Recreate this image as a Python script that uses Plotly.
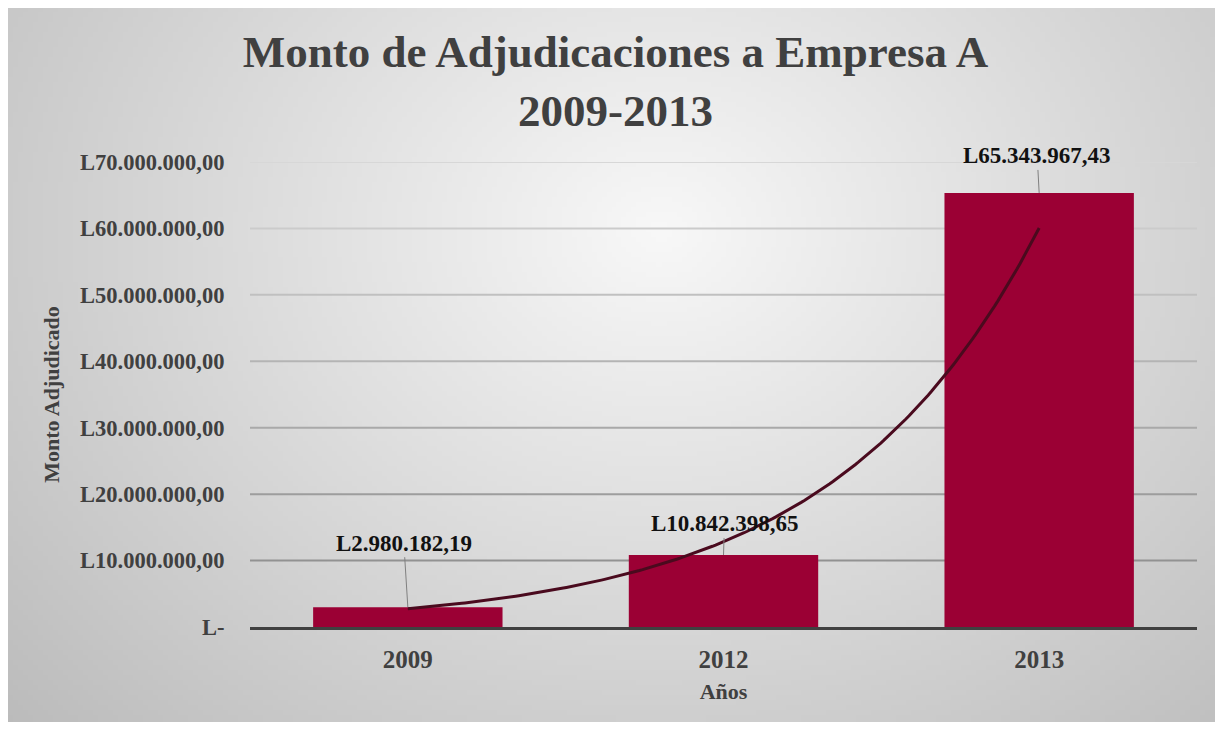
import base64, struct, zlib
import numpy as np
import plotly.graph_objects as go

# ---- data ----
years = ["2009", "2012", "2013"]
amounts = [2980182.19, 10842398.65, 65343967.43]
y_ticks = [0, 10e6, 20e6, 30e6, 40e6, 50e6, 60e6, 70e6]
y_tick_labels = ["L-", "L10.000.000,00", "L20.000.000,00", "L30.000.000,00",
                 "L40.000.000,00", "L50.000.000,00", "L60.000.000,00", "L70.000.000,00"]
label_offsets = [(-4, -64), (1, -31), (-2, -37)]   # data-label placement (px)

def fmt(v):
    s = f"{v:,.2f}".replace(",", "X").replace(".", ",").replace("X", ".")
    return "L" + s

# ---- geometry (page has an 8px body margin) ----
OFF = 8
W, H = 1223 - OFF, 729 - OFF
L = 250 - OFF
T = 162 - OFF
R = W - (1197 - OFF)
B = H - (627 - OFF)
PW, PH = W - L - R, H - T - B

def px2paper(x, y):
    # x, y given in page pixels
    return (x - OFF - L) / PW, (H - B - (y - OFF)) / PH

# ---- radial gradient background image ----
fx0, fy0, fx1, fy1 = 6, 5, 1217, 722
gw, gh = 243, 144
xs = np.linspace(fx0, fx1, gw)
ys = np.linspace(fy0, fy1, gh)
XX, YY = np.meshgrid(xs, ys)
d = np.sqrt(((XX - 660) / 800) ** 2 + ((YY - 230) / 650) ** 2)
img = np.clip(248 - 54 * d, 185, 250).astype(np.uint8)

def png_gray(a):
    h, w = a.shape
    raw = b"".join(b"\x00" + a[i].tobytes() for i in range(h))
    def chunk(t, data):
        c = struct.pack(">I", len(data)) + t + data
        return c + struct.pack(">I", zlib.crc32(t + data) & 0xffffffff)
    return (b"\x89PNG\r\n\x1a\n" + chunk(b"IHDR", struct.pack(">IIBBBBB", w, h, 8, 0, 0, 0, 0))
            + chunk(b"IDAT", zlib.compress(raw, 9)) + chunk(b"IEND", b""))

src = "data:image/png;base64," + base64.b64encode(png_gray(img)).decode()
ix0, iy1 = px2paper(fx0, fy0)
ix1, iy0 = px2paper(fx1, fy1)

# ---- trendline (exponential fit, Excel style x = 1..n) ----
xi = np.arange(1, len(amounts) + 1)
b1, b0 = np.polyfit(xi, np.log(amounts), 1)
xt = np.linspace(1, len(amounts), 200)
yt = np.exp(b0 + b1 * xt)

pos = list(range(len(years)))
serif = "Liberation Serif, Times New Roman, serif"

fig = go.Figure()
fig.add_trace(go.Bar(x=pos, y=amounts, width=0.6, marker=dict(color="#9B0034", line=dict(width=0)),
                     showlegend=False, hoverinfo="y"))
fig.add_trace(go.Scatter(x=xt - 1, y=yt, mode="lines", line=dict(color="#4A0A1E", width=3),
                         showlegend=False, hoverinfo="skip"))

# gridlines (shaded darker toward the bottom like the reference)
shapes = []
for v in y_ticks[1:]:
    f = v / y_ticks[-1]
    c = int(135 + (215 - 135) * f)
    shapes.append(dict(type="line", xref="paper", yref="y", x0=0, x1=1, y0=v, y1=v,
                       line=dict(color=f"rgb({c},{c},{c})", width=2), layer="below"))

annotations = []
for p, v, (ax, ay) in zip(pos, amounts, label_offsets):
    annotations.append(dict(x=p, y=v, xref="x", yref="y", text=fmt(v), showarrow=True,
                            arrowhead=0, arrowwidth=1, arrowcolor="#808080", ax=ax, ay=ay,
                            standoff=0, startstandoff=0,
                            font=dict(family=serif, size=23, color="#111111", weight="bold")))

fig.update_layout(
    width=W, height=H,
    margin=dict(l=L, r=R, t=T, b=B, autoexpand=False),
    paper_bgcolor="white", plot_bgcolor="rgba(0,0,0,0)",
    title=dict(text="Monto de Adjudicaciones a Empresa A<br>2009-2013", x=0.5, xanchor="center",
               y=1 - 59 / H, yanchor="middle", yref="container",
               font=dict(family=serif, size=45, color="#404040", weight="bold")),
    images=[dict(source=src, xref="paper", yref="paper", x=ix0, y=iy1, sizex=ix1 - ix0,
                 sizey=iy1 - iy0, sizing="stretch", xanchor="left", yanchor="top", layer="below")],
    shapes=shapes,
    annotations=annotations,
    bargap=0.4,
    xaxis=dict(range=[-0.5, 2.5], tickvals=pos, ticktext=years, showgrid=False, zeroline=False,
               showline=True, linecolor="#404040", linewidth=3,
               ticks="outside", ticklen=8, tickcolor="rgba(0,0,0,0)",
               tickfont=dict(family=serif, size=25, color="#404040", weight="bold"),
               title=dict(text="Años", standoff=12,
                          font=dict(family=serif, size=22, color="#404040", weight="bold"))),
    yaxis=dict(range=[0, 70e6], tickvals=y_ticks, ticktext=y_tick_labels, showgrid=False,
               zeroline=False, showline=False,
               ticks="outside", ticklen=20, tickcolor="rgba(0,0,0,0)",
               tickfont=dict(family=serif, size=22.5, color="#404040", weight="bold"),
               title=dict(text="Monto Adjudicado", standoff=14,
                          font=dict(family=serif, size=22, color="#404040", weight="bold"))),
)

fig.write_html("out.html")
